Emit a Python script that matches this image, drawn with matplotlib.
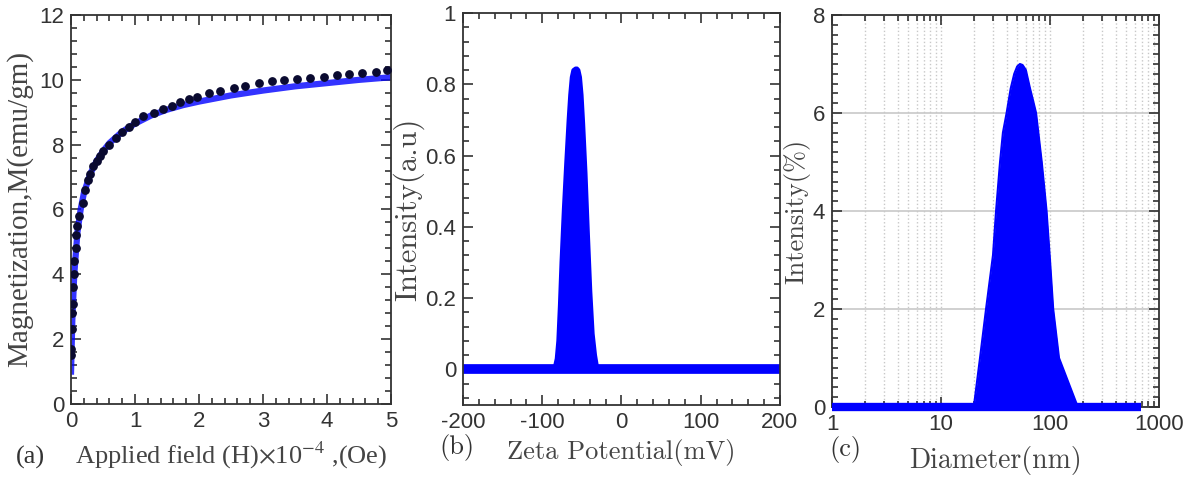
import numpy as np
import matplotlib
matplotlib.use("Agg")
import matplotlib.pyplot as plt
from matplotlib.ticker import MultipleLocator, LogLocator, NullFormatter

# (a) magnetization data (dots) and fitted curve
h_dots = [0.0, 0.0, 0.01, 0.01, 0.03, 0.03, 0.05, 0.05, 0.08, 0.08, 0.1, 0.13,
          0.18, 0.22, 0.27, 0.3, 0.35, 0.4, 0.45, 0.5, 0.6, 0.7, 0.8, 0.9,
          1.0, 1.13, 1.29, 1.44, 1.57, 1.7, 1.84, 1.97, 2.15, 2.33, 2.54,
          2.72, 2.93, 3.14, 3.32, 3.53, 3.74, 3.95, 4.16, 4.34, 4.55, 4.76, 4.94]
m_dots = [1.5, 1.7, 2.3, 2.8, 3.1, 3.6, 4.0, 4.4, 4.8, 5.2, 5.5, 5.8,
          6.2, 6.6, 6.9, 7.1, 7.35, 7.5, 7.65, 7.8, 8.0, 8.2, 8.4, 8.55,
          8.71, 8.87, 8.97, 9.1, 9.2, 9.33, 9.4, 9.48, 9.59, 9.67, 9.76,
          9.81, 9.89, 9.95, 9.98, 10.02, 10.05, 10.1, 10.14, 10.18, 10.22, 10.25, 10.3]
h_fit = [0, 0.02, 0.05, 0.1, 0.15, 0.2, 0.3, 0.4, 0.5, 0.6, 0.8, 1.0, 1.25,
         1.5, 1.75, 2.0, 2.5, 3.0, 3.5, 4.0, 4.5, 5.0]
m_fit = [1.0, 2.6, 4.0, 5.3, 6.0, 6.5, 7.1, 7.5, 7.8, 8.05, 8.4, 8.65, 8.9,
         9.08, 9.22, 9.33, 9.52, 9.67, 9.8, 9.9, 10.0, 10.08]

# (b) zeta potential
zeta = [-200, -90, -85, -82, -80, -78, -76, -73, -70, -67, -65, -63, -61,
        -58, -56, -54, -52, -50, -48, -45, -42, -39, -36, -33, -30, 200]
zeta_int = [0, 0, 0.0, 0.03, 0.08, 0.18, 0.3, 0.45, 0.58, 0.7, 0.77, 0.82, 0.84,
            0.845, 0.845, 0.84, 0.82, 0.77, 0.69, 0.55, 0.38, 0.22, 0.1, 0.04, 0.0, 0]

# (c) size distribution
diam = [1, 20, 22.8, 25.9, 30, 32, 34.8, 37, 40, 43.6, 47, 50, 53, 56, 60,
        65.6, 70, 74.5, 84, 93, 100, 107, 121, 180, 680]
diam_int = [0, 0, 1, 2, 3.1, 4, 5, 5.6, 6, 6.5, 6.8, 6.95, 7.0, 6.98, 6.88,
            6.5, 6.25, 6, 5, 4, 3, 2, 1, 0, 0]

plt.rcParams['axes.unicode_minus'] = False
tick_font = 'Liberation Sans'
dark = '#333333'
label_col = '#444444'
blue = '#0000ff'


def style(ax):
    ax.tick_params(which='both', direction='in', top=True, right=True,
                   colors=dark, width=1.2)
    ax.tick_params(which='major', length=7, labelsize=16, pad=5)
    ax.tick_params(which='minor', length=4)
    for lab in ax.get_xticklabels() + ax.get_yticklabels():
        lab.set_fontfamily(tick_font)
    for s in ax.spines.values():
        s.set_color(dark)
        s.set_linewidth(1.3)


fig = plt.figure(figsize=(11.92, 4.84), dpi=100)

# panel a
ax1 = fig.add_axes([0.0596, 0.1653, 0.2685, 0.8037])
ax1.plot(h_fit, m_fit, color=blue, lw=4.5, alpha=0.8, zorder=2)
ax1.scatter(h_dots, m_dots, s=28, color='#0a0a30', zorder=3)
ax1.set_xlim(0, 5)
ax1.set_ylim(0, 12)
ax1.xaxis.set_major_locator(MultipleLocator(1))
ax1.xaxis.set_minor_locator(MultipleLocator(0.2))
ax1.yaxis.set_major_locator(MultipleLocator(2))
ax1.yaxis.set_minor_locator(MultipleLocator(0.4))
style(ax1)
ax1.set_ylabel('Magnetization,M(emu/gm)', fontfamily='Liberation Serif',
               fontsize=21, color=label_col, labelpad=4)
ax1.set_xlabel(r'Applied field (H)$\times$10$^{-4}$ ,(Oe)',
               fontfamily='Liberation Serif', math_fontfamily='stix',
               fontsize=19, color=label_col, labelpad=6)

# panel b
ax2 = fig.add_axes([0.3884, 0.1632, 0.2659, 0.8099])
ax2.fill_between(zeta, zeta_int, 0, color=blue, lw=0)
ax2.plot(zeta, zeta_int, color=blue, lw=2.5)
ax2.plot([zeta[0], zeta[-1]], [0, 0], color=blue, lw=7, solid_capstyle='butt')
ax2.set_xlim(-200, 200)
ax2.set_ylim(-0.1, 1)
ax2.xaxis.set_major_locator(MultipleLocator(100))
ax2.xaxis.set_minor_locator(MultipleLocator(20))
ax2.yaxis.set_minor_locator(MultipleLocator(0.04))
ax2.set_yticks([0, 0.2, 0.4, 0.6, 0.8, 1])
ax2.set_yticklabels(['0', '0.2', '0.4', '0.6', '0.8', '1'])
style(ax2)
ax2.set_ylabel('Intensity(a.u)', fontfamily='cmr10',
               fontsize=22, color=label_col, labelpad=1)
ax2.set_xlabel('Zeta Potential(mV)', fontfamily='cmr10',
               fontsize=19, color=label_col, labelpad=4)

# panel c
ax3 = fig.add_axes([0.698, 0.1591, 0.2743, 0.8099])
ax3.set_xscale('log')
ax3.fill_between(diam, diam_int, 0, color=blue, lw=0, zorder=2)
ax3.plot(diam, diam_int, color=blue, lw=1.5, zorder=2)
ax3.plot([diam[0], diam[-1]], [0, 0], color=blue, lw=6, solid_capstyle='butt',
         clip_on=False, zorder=3)
ax3.set_xlim(1, 1000)
ax3.set_ylim(0, 8)
ax3.xaxis.set_minor_locator(LogLocator(base=10, subs=np.arange(2, 10), numticks=20))
ax3.xaxis.set_minor_formatter(NullFormatter())
ax3.set_xticks([1, 10, 100, 1000])
ax3.set_xticklabels(['1', '10', '100', '1000'])
ax3.yaxis.set_major_locator(MultipleLocator(2))
ax3.yaxis.set_minor_locator(MultipleLocator(0.2))
ax3.grid(True, which='major', axis='y', color='#c8c8c8', lw=1.2, zorder=0)
ax3.grid(True, which='both', axis='x', color='#c8c8c8', lw=1, ls=':', zorder=0)
ax3.set_axisbelow(True)
style(ax3)
ax3.set_ylabel('Intensity(%)', fontfamily='cmr10',
               fontsize=19, color=label_col, labelpad=2)
ax3.set_xlabel('Diameter(nm)', fontfamily='cmr10',
               fontsize=20, color=label_col, labelpad=8)

# panel letters
fig.text(0.013, 0.055, '(a)', fontfamily='Liberation Serif', fontsize=19,
         color=dark, va='center')
fig.text(0.369, 0.075, '(b)', fontsize=19, color=dark, va='center',
         fontfamily='cmr10')
fig.text(0.696, 0.072, '(c)', fontsize=19, color=dark, va='center',
         fontfamily='cmr10')

fig.savefig('out.png', dpi=100)
